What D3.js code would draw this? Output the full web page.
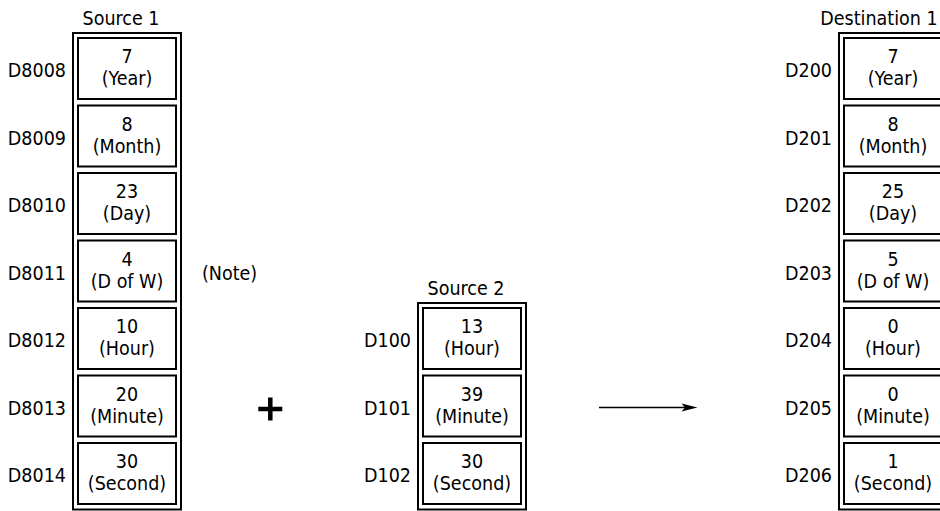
<!DOCTYPE html>
<meta charset="utf-8">
<style>
  body { margin: 0; background: #fff; }
  svg text { font-family: Tahoma, "DejaVu Sans Condensed", "DejaVu Sans", sans-serif; font-size: 19.5px; fill: #000; }
</style>
<svg id="chart" width="940" height="511"></svg>
<script src="https://cdn.jsdelivr.net/npm/d3@7"></script>
<script>
// field names shared by every column (row order)
var fieldNames = ["Year", "Month", "Day", "D of W", "Hour", "Minute", "Second"];

var source1Regs = ["D8008", "D8009", "D8010", "D8011", "D8012", "D8013", "D8014"];
var source1Vals = [7, 8, 23, 4, 10, 20, 30];

var source2Regs = ["D100", "D101", "D102"];
var source2Fields = ["Hour", "Minute", "Second"];
var source2Vals = [13, 39, 30];

var destRegs = ["D200", "D201", "D202", "D203", "D204", "D205", "D206"];
var destVals = [7, 8, 25, 5, 0, 0, 1];

var columnNames = ["Source 1", "Source 2", "Destination 1"];

var svg = d3.select("#chart");

var rowH = 67.5, frameW = 108;
// row index -> top of that row
var y = d3.scaleLinear().domain([0, fieldNames.length]).range([33, 33 + fieldNames.length * rowH]);
// column -> left edge of its frame
var x = d3.scaleOrdinal().domain(columnNames).range([73, 418, 839]);
var titleDx = { "Source 1": -6, "Source 2": -6, "Destination 1": -14 };

function makeColumn(name, regs, fields, vals) {
  var rows = regs.map(function(r, i) {
    return { reg: r, field: fields[i], val: vals[i], idx: fieldNames.indexOf(fields[i]) };
  });
  var x0 = x(name);
  var g = svg.append("g");
  var first = rows[0].idx;

  g.append("rect")
    .attr("x", x0).attr("y", y(first))
    .attr("width", frameW).attr("height", y(first + rows.length) - y(first) + 4)
    .attr("fill", "none").attr("stroke", "#000").attr("stroke-width", 2);

  g.append("text")
    .attr("x", x0 + frameW / 2 + titleDx[name]).attr("y", y(first) - 8)
    .attr("text-anchor", "middle").text(name);

  var cell = g.selectAll(".cell").data(rows).enter().append("g")
    .attr("class", "cell")
    .attr("transform", function(d) { return "translate(0," + y(d.idx) + ")"; });

  cell.append("rect")
    .attr("x", x0 + 5).attr("y", 5)
    .attr("width", frameW - 10).attr("height", 61)
    .attr("fill", "none").attr("stroke", "#000").attr("stroke-width", 2);

  cell.append("text")
    .attr("x", x0 + frameW / 2).attr("y", 30)
    .attr("text-anchor", "middle").text(function(d) { return d.val; });

  cell.append("text")
    .attr("x", x0 + frameW / 2).attr("y", 52)
    .attr("text-anchor", "middle").text(function(d) { return "(" + d.field + ")"; });

  cell.append("text")
    .attr("x", x0 - 7).attr("y", 44)
    .attr("text-anchor", "end").text(function(d) { return d.reg; });
}

makeColumn("Source 1", source1Regs, fieldNames, source1Vals);
makeColumn("Source 2", source2Regs, source2Fields, source2Vals);
makeColumn("Destination 1", destRegs, fieldNames, destVals);

// note next to the day-of-week row
svg.append("text")
  .attr("x", x("Source 1") + frameW + 21)
  .attr("y", y(fieldNames.indexOf("D of W")) + 44)
  .text("(Note)");

// plus sign and arrow on the minute row
var midY = y(fieldNames.indexOf("Minute")) + 38.5;
var px = 270.3;
svg.append("path")
  .attr("d", "M" + (px - 12) + "," + midY + "H" + (px + 12) + "M" + px + "," + (midY - 11.5) + "V" + (midY + 11.5))
  .attr("stroke", "#000").attr("stroke-width", 4.5).attr("fill", "none");

svg.append("line")
  .attr("x1", 599).attr("x2", 686).attr("y1", midY - 1.5).attr("y2", midY - 1.5)
  .attr("stroke", "#000").attr("stroke-width", 1.5);
svg.append("path")
  .attr("d", "M697.5," + (midY - 1.5) + "L681.5," + (midY - 5.5) + "L685," + (midY - 1.5) + "L681.5," + (midY + 2.5) + "Z")
  .attr("fill", "#000");
</script>
